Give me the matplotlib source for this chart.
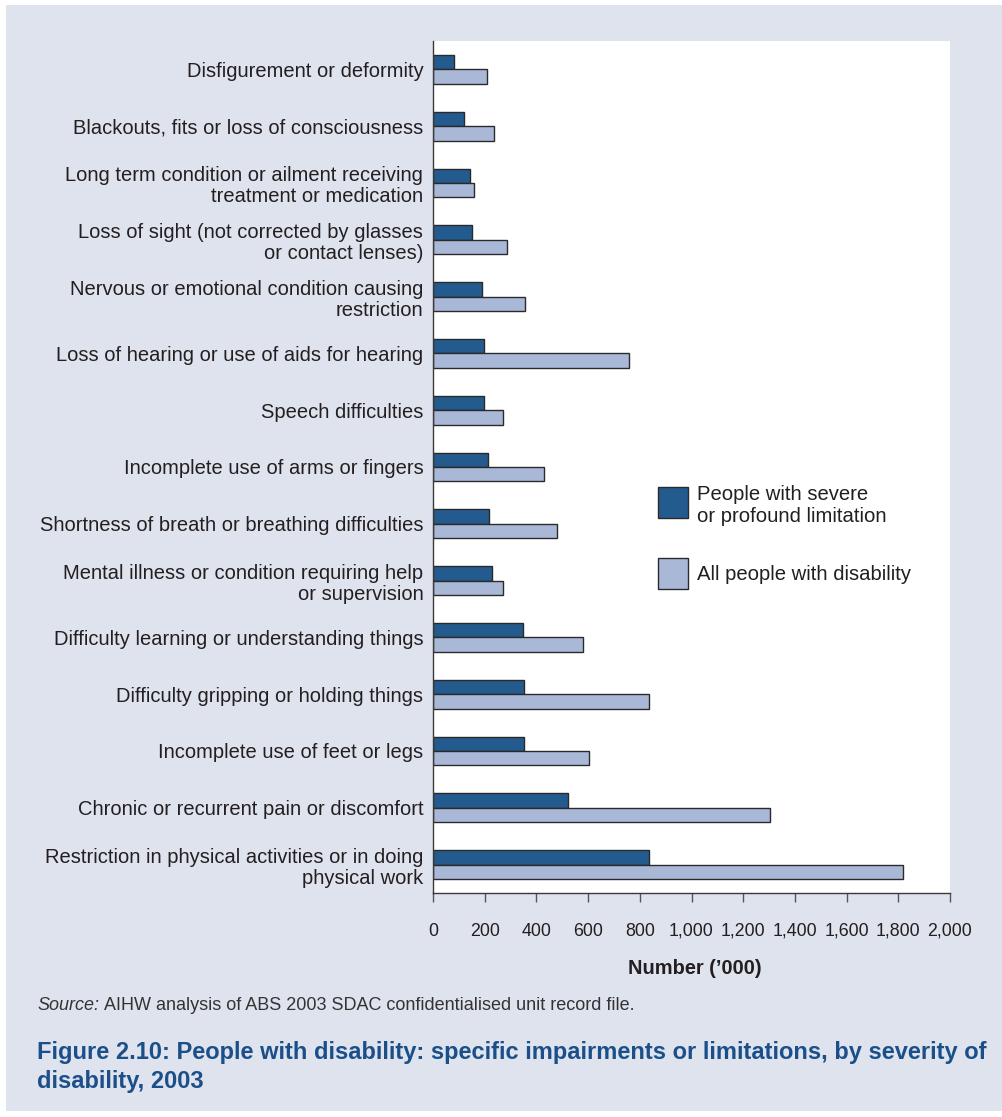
import numpy as np
import matplotlib
matplotlib.use("Agg")
import matplotlib.pyplot as plt
from matplotlib.patches import Rectangle

categories = [
    "Disfigurement or deformity",
    "Blackouts, fits or loss of consciousness",
    "Long term condition or ailment receiving\ntreatment or medication",
    "Loss of sight (not corrected by glasses\nor contact lenses)",
    "Nervous or emotional condition causing\nrestriction",
    "Loss of hearing or use of aids for hearing",
    "Speech difficulties",
    "Incomplete use of arms or fingers",
    "Shortness of breath or breathing difficulties",
    "Mental illness or condition requiring help\nor supervision",
    "Difficulty learning or understanding things",
    "Difficulty gripping or holding things",
    "Incomplete use of feet or legs",
    "Chronic or recurrent pain or discomfort",
    "Restriction in physical activities or in doing\nphysical work",
]
severe = [83, 119, 145, 152, 188, 196, 197, 213, 217, 228, 347, 351, 353, 524, 835]
all_people = [208, 237, 157, 286, 355, 757, 272, 428, 478, 272, 579, 836, 602, 1304, 1819]
xticks = [0, 200, 400, 600, 800, 1000, 1200, 1400, 1600, 1800, 2000]
series_names = ["People with severe\nor profound limitation", "All people with disability"]

W, H = 1002, 1117
BG = "#dfe3ee"
DARK = "#245b8f"
LIGHT = "#a9b8d7"
EDGE = "#2a2a2a"
TXT = "#231f20"
TITLE = "#1b4f8a"
REG = "Liberation Sans"


def fx(x):
    return x / W


def fy(y):
    return 1 - y / H


fig = plt.figure(figsize=(W / 100, H / 100), dpi=100)
fig.patch.set_facecolor("white")
fig.patches.append(Rectangle((fx(6), fy(1111)), fx(W - 6), (1111 - 5) / H,
                             transform=fig.transFigure, facecolor=BG,
                             edgecolor="none", zorder=-10))

ax = fig.add_axes([fx(433), fy(893), fx(950 - 433), (893 - 41) / H])
ax.set_facecolor("white")

y = np.arange(len(categories))
h = 0.255
ax.barh(y - h / 2, severe, height=h, color=DARK, edgecolor=EDGE, linewidth=1.0)
ax.barh(y + h / 2, all_people, height=h, color=LIGHT, edgecolor=EDGE, linewidth=1.0)

ax.set_ylim(len(categories) - 0.5, -0.5)
ax.set_xlim(0, 2000)
ax.set_yticks(y)
ax.set_yticklabels(categories, fontsize=14.5, family=REG, color=TXT, linespacing=1.15)
ax.tick_params(axis="y", length=0, pad=7)
ax.set_xticks(xticks)
ax.set_xticklabels([f"{v:,}" for v in xticks], fontsize=12.8, family=REG, color=TXT)
ax.tick_params(axis="x", length=6.5, width=1, color="#555555", pad=15, direction="out")

for s in ["top", "right"]:
    ax.spines[s].set_visible(False)
for s in ["left", "bottom"]:
    ax.spines[s].set_color("#3a3a3a")
    ax.spines[s].set_linewidth(1.0)

fig.text(fx(695), fy(968), "Number (\u2019000)", fontsize=14.4, family=REG,
         fontweight="bold", color=TXT, ha="center", va="center")

# legend
for (top, col), name, ty in zip([(487, DARK), (558, LIGHT)], series_names, [505, 574]):
    fig.patches.append(Rectangle((fx(658), fy(top + 31)), fx(30), 31 / H,
                                 transform=fig.transFigure, facecolor=col,
                                 edgecolor=EDGE, linewidth=1.0))
    fig.text(fx(697), fy(ty), name, fontsize=14.6, family=REG, color=TXT,
             ha="left", va="center", linespacing=1.2)

src1 = fig.text(fx(37), fy(1005), "Source:", fontsize=13, family=REG, style="italic",
                color="#333333", ha="left", va="center")
fig.canvas.draw()
bb = src1.get_window_extent()
fig.text(bb.x1 / W + fx(5), fy(1005), "AIHW analysis of ABS 2003 SDAC confidentialised unit record file.",
         fontsize=13, family=REG, color="#333333", ha="left", va="center")

fig.text(fx(37), fy(1067), "Figure 2.10: People with disability: specific impairments or limitations, by severity of\ndisability, 2003",
         fontsize=17, family=REG, fontweight="bold", color=TITLE,
         ha="left", va="center", linespacing=1.3)

fig.savefig("out.png", dpi=100, facecolor=fig.get_facecolor())
